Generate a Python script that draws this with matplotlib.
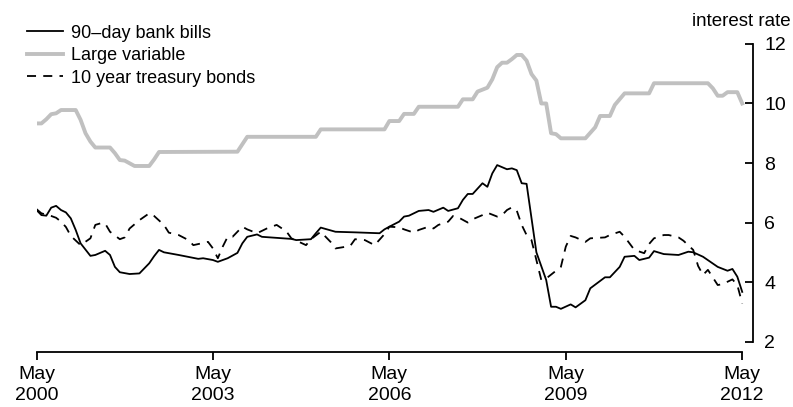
import matplotlib
matplotlib.use('Agg')
import matplotlib.pyplot as plt

# months since May 2000
bills_m = [0, 1, 2, 3, 4, 5, 6, 7, 8, 9, 11, 12, 14, 15, 16, 17, 19, 21, 22, 23, 24, 25, 26, 29,
           33, 34, 36, 37, 39, 41, 42, 43, 45, 46, 52, 53, 56, 57, 58, 61, 65, 70, 71, 72, 74, 75,
           76, 78, 80, 81, 83, 84, 86, 87, 88, 89, 91, 92, 93, 94, 96, 97, 98, 99, 100, 102, 104,
           105, 106, 107, 109, 110, 112, 113, 116, 117, 119, 120, 122, 123, 125, 126, 128, 131,
           133, 134, 136, 139, 141, 142, 143, 144]
bills = [6.42, 6.25, 6.23, 6.50, 6.56, 6.42, 6.34, 6.14, 5.75, 5.30, 4.88, 4.91, 5.05, 4.91, 4.51,
         4.33, 4.27, 4.29, 4.46, 4.63, 4.87, 5.08, 5.00, 4.91, 4.78, 4.80, 4.74, 4.68, 4.80, 4.98,
         5.30, 5.52, 5.60, 5.52, 5.45, 5.41, 5.44, 5.64, 5.83, 5.69, 5.67, 5.64, 5.77, 5.86, 6.03,
         6.20, 6.23, 6.39, 6.42, 6.36, 6.50, 6.39, 6.48, 6.76, 6.96, 6.96, 7.32, 7.20, 7.65, 7.93,
         7.79, 7.82, 7.76, 7.32, 7.30, 5.00, 4.07, 3.17, 3.17, 3.10, 3.25, 3.15, 3.39, 3.79, 4.16,
         4.16, 4.51, 4.85, 4.88, 4.74, 4.82, 5.04, 4.94, 4.91, 5.02, 5.00, 4.85, 4.51, 4.38, 4.44,
         4.18, 3.67]

large_m = [0, 1, 2, 3, 4, 5, 8, 9, 10, 11, 12, 15, 16, 17, 18, 20, 23, 24, 25, 41, 43, 57, 58,
           71, 72, 74, 75, 77, 78, 86, 87, 89, 90, 92, 93, 94, 95, 96, 97, 98, 99, 100, 101, 102,
           103, 104, 105, 106, 107, 112, 114, 115, 117, 118, 120, 125, 126, 137, 138, 139, 140,
           141, 143, 144]
large = [9.33, 9.33, 9.47, 9.64, 9.67, 9.78, 9.78, 9.45, 9.00, 8.72, 8.52, 8.52, 8.33, 8.10, 8.08,
         7.90, 7.90, 8.12, 8.37, 8.38, 8.88, 8.88, 9.13, 9.13, 9.41, 9.41, 9.65, 9.65, 9.89, 9.89,
         10.14, 10.14, 10.40, 10.53, 10.81, 11.22, 11.37, 11.37, 11.49, 11.63, 11.63, 11.44, 10.99,
         10.77, 10.00, 10.00, 9.00, 8.97, 8.83, 8.83, 9.20, 9.58, 9.58, 9.95, 10.34, 10.34, 10.68,
         10.68, 10.51, 10.26, 10.26, 10.38, 10.38, 10.00]

bonds_m = [0, 1, 3, 4, 5, 6, 7, 9, 11, 12, 13, 14, 15, 17, 18, 19, 21, 23, 24, 26, 27, 29, 31, 32,
           35, 36, 37, 38, 39, 40, 42, 43, 45, 47, 49, 51, 52, 55, 56, 58, 60, 61, 64, 65, 67, 69,
           71, 72, 74, 75, 77, 78, 80, 81, 82, 84, 85, 86, 88, 89, 91, 92, 94, 95, 96, 97, 98, 99,
           100, 101, 102, 103, 104, 107, 108, 109, 110, 112, 113, 116, 117, 119, 120, 122, 124,
           125, 126, 128, 129, 131, 132, 134, 135, 136, 137, 139, 140, 142, 143, 144]
bonds = [6.45, 6.31, 6.22, 6.16, 6.03, 5.85, 5.55, 5.24, 5.47, 5.92, 5.97, 5.97, 5.69, 5.44, 5.50,
         5.80, 6.08, 6.31, 6.22, 5.92, 5.66, 5.58, 5.41, 5.24, 5.35, 5.13, 4.80, 5.19, 5.52, 5.52,
         5.86, 5.77, 5.64, 5.80, 5.92, 5.70, 5.47, 5.24, 5.44, 5.69, 5.35, 5.13, 5.21, 5.44, 5.41,
         5.24, 5.61, 5.86, 5.84, 5.77, 5.66, 5.75, 5.86, 5.80, 5.92, 6.03, 6.22, 6.18, 6.00, 6.11,
         6.25, 6.33, 6.20, 6.25, 6.42, 6.51, 6.40, 5.92, 5.58, 5.41, 4.74, 4.07, 4.12, 4.51, 5.19,
         5.55, 5.50, 5.35, 5.47, 5.50, 5.58, 5.69, 5.52, 5.08, 4.97, 5.28, 5.47, 5.58, 5.58, 5.50,
         5.39, 5.08, 4.54, 4.24, 4.41, 3.90, 3.93, 4.09, 3.90, 3.28]

tick_m = [0, 36, 72, 108, 144]
tick_labels = ['May\n2000', 'May\n2003', 'May\n2006', 'May\n2009', 'May\n2012']
y_ticks = [2, 4, 6, 8, 10, 12]

plt.rcParams['font.family'] = ['Liberation Sans', 'DejaVu Sans']
plt.rcParams['font.size'] = 12

fig = plt.figure(figsize=(7.93, 4.07), dpi=100)
ax = fig.add_axes([36.5 / 793, 55 / 407, 716.5 / 793, 314 / 407])

ax.plot(large_m, large, color='#c0c0c0', lw=2.8, label='Large variable', zorder=1)
ax.plot(bills_m, bills, color='black', lw=1.3, label='90\u2013day bank bills', zorder=3)
ax.plot(bonds_m, bonds, color='black', lw=1.3, ls=(0, (5, 4)), label='10 year treasury bonds', zorder=2)

ax.set_xlim(0, 146.2)
ax.set_ylim(1.65, 12.2)

for s in ['top', 'left']:
    ax.spines[s].set_visible(False)
ax.spines['bottom'].set_bounds(0, 144)
ax.spines['right'].set_bounds(2, 12)
ax.spines['bottom'].set_linewidth(1.3)
ax.spines['right'].set_linewidth(1.3)

ax.set_xticks(tick_m)
ax.set_xticklabels(tick_labels, linespacing=1.35)
ax.tick_params(axis='x', direction='out', length=6, width=1.3, pad=4, labelsize=14)

ax.yaxis.tick_right()
ax.set_yticks(y_ticks)
ax.tick_params(axis='y', direction='in', length=6, width=1.3, pad=8, labelsize=14)

fig.text(791 / 793, 1 - 21 / 407, 'interest rate', ha='right', va='center', fontsize=13.5)

# legend, order as in reference
handles, labels = ax.get_legend_handles_labels()
order = [1, 0, 2]
ax.legend([handles[i] for i in order], [labels[i] for i in order],
          loc='upper left', bbox_to_anchor=(-0.024, 1.065), frameon=False,
          handlelength=2.0, handletextpad=0.45, labelspacing=0.3, fontsize=13,
          borderaxespad=0)

fig.savefig('out.png', dpi=100)
